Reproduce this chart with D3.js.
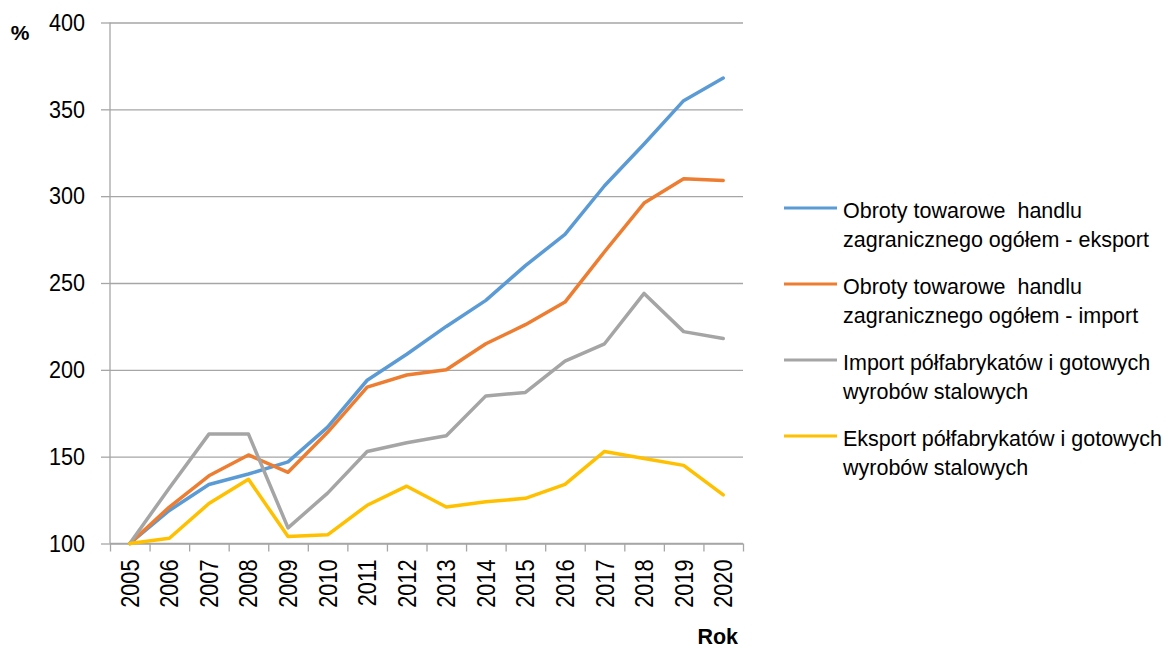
<!DOCTYPE html>
<html>
<head>
<meta charset="utf-8">
<script src="https://cdn.jsdelivr.net/npm/d3@7/dist/d3.min.js"></script>
<style>
  body { margin: 0; background: #fff; }
  svg text { font-family: "Liberation Sans", Arial, sans-serif; fill: #000; white-space: pre; }
  .axis path { display: none; }
  .grid line { stroke: #a6a6a6; stroke-width: 1.3px; }
</style>
</head>
<body>
<svg id="chart"></svg>
<script>
// dane (2005 = 100)
var years = ["2005","2006","2007","2008","2009","2010","2011","2012","2013","2014","2015","2016","2017","2018","2019","2020"];
var eksportOgolem = [100, 119, 134, 140, 147, 167, 194, 209, 225, 240, 260, 278, 306, 330, 355, 368];
var importOgolem  = [100, 121, 139, 151, 141, 164, 190, 197, 200, 215, 226, 239, 268, 296, 310, 309];
var importStal    = [100, 132, 163, 163, 109, 129, 153, 158, 162, 185, 187, 205, 215, 244, 222, 218];
var eksportStal   = [100, 103, 123, 137, 104, 105, 122, 133, 121, 124, 126, 134, 153, 149, 145, 128];
var yTicks = [100, 150, 200, 250, 300, 350, 400];
var seriesNames = [
  ["Obroty towarowe  handlu", "zagranicznego ogółem - eksport"],
  ["Obroty towarowe  handlu", "zagranicznego ogółem - import"],
  ["Import półfabrykatów i gotowych", "wyrobów stalowych"],
  ["Eksport półfabrykatów i gotowych", "wyrobów stalowych"]
];
var colors = ["#5b9bd5", "#ed7d31", "#a5a5a5", "#ffc000"];
var allSeries = [eksportOgolem, importOgolem, importStal, eksportStal];

var W = 1169, H = 649;
var pLeft = 110, pRight = 743, pTop = 22.5, pBottom = 543.5;

var svg = d3.select("#chart").attr("width", W).attr("height", H);

var x = d3.scaleBand().domain(years).range([pLeft, pRight]).padding(0);
var xEdges = d3.scaleLinear().domain([0, years.length]).range([pLeft, pRight]);
var y = d3.scaleLinear().domain([100, 400]).range([pBottom, pTop]);

// siatka
svg.append("g")
  .attr("class", "grid axis")
  .attr("transform", "translate(" + pLeft + ",0)")
  .call(d3.axisLeft(y).tickValues(yTicks).tickSize(-(pRight - pLeft)).tickFormat(""));

// os Y (czcionka nieco zwezona jak w oryginale)
var yAxis = svg.append("g")
  .attr("class", "grid axis")
  .attr("transform", "translate(" + pLeft + ",0)")
  .call(d3.axisLeft(y).tickValues(yTicks).tickSize(9).tickPadding(15));
yAxis.selectAll("text")
  .style("font-size", "24px")
  .attr("x", -25 / 0.9)
  .attr("transform", "scale(0.9,1)");
yAxis.append("line")
  .attr("x1", 0).attr("x2", 0).attr("y1", pTop).attr("y2", pBottom)
  .attr("stroke", "#a6a6a6").attr("stroke-width", 1.3);

// os X - kreski na granicach
var xTickAxis = svg.append("g")
  .attr("class", "grid axis")
  .attr("transform", "translate(0," + pBottom + ")")
  .call(d3.axisBottom(xEdges).tickValues(d3.range(years.length + 1)).tickSize(8).tickFormat(""));
xTickAxis.append("line")
  .attr("x1", pLeft).attr("x2", pRight).attr("y1", 0).attr("y2", 0)
  .attr("stroke", "#a6a6a6").attr("stroke-width", 1.3);

// os X - etykiety
var xLab = svg.append("g")
  .attr("class", "axis")
  .attr("transform", "translate(0," + pBottom + ")")
  .call(d3.axisBottom(x).tickSize(0).tickPadding(0));
xLab.selectAll("line").remove();
xLab.selectAll("text")
  .attr("transform", "rotate(-90) scale(0.87,1)")
  .attr("x", -16 / 0.87)
  .attr("y", 0)
  .attr("dy", "0.36em")
  .style("text-anchor", "end")
  .style("font-size", "25px");

// linie
var line = d3.line()
  .x(function(d, i) { return x(years[i]) + x.bandwidth() / 2; })
  .y(function(d) { return y(d); });

allSeries.forEach(function(s, k) {
  svg.append("path")
    .datum(s)
    .attr("d", line)
    .attr("fill", "none")
    .attr("stroke", colors[k])
    .attr("stroke-width", 3.5)
    .attr("stroke-linejoin", "round")
    .attr("stroke-linecap", "round");
});

// etykiety osi
svg.append("text")
  .attr("x", 20).attr("y", 40)
  .attr("text-anchor", "middle")
  .style("font-size", "21px").style("font-weight", "bold")
  .text("%");

svg.append("text")
  .attr("x", 738).attr("y", 644)
  .attr("text-anchor", "end")
  .style("font-size", "21.5px").style("font-weight", "bold")
  .text("Rok");

// legenda
var legend = svg.append("g");
seriesNames.forEach(function(lines, k) {
  var ly = 208 + k * 76;
  legend.append("line")
    .attr("x1", 784).attr("x2", 837)
    .attr("y1", ly).attr("y2", ly)
    .attr("stroke", colors[k]).attr("stroke-width", 3);
  var t = legend.append("text")
    .attr("x", 843).attr("y", ly + 10)
    .style("font-size", "21.5px");
  lines.forEach(function(s, j) {
    t.append("tspan").attr("x", 843).attr("dy", j === 0 ? 0 : 28.5).text(s);
  });
});
</script>
</body>
</html>
